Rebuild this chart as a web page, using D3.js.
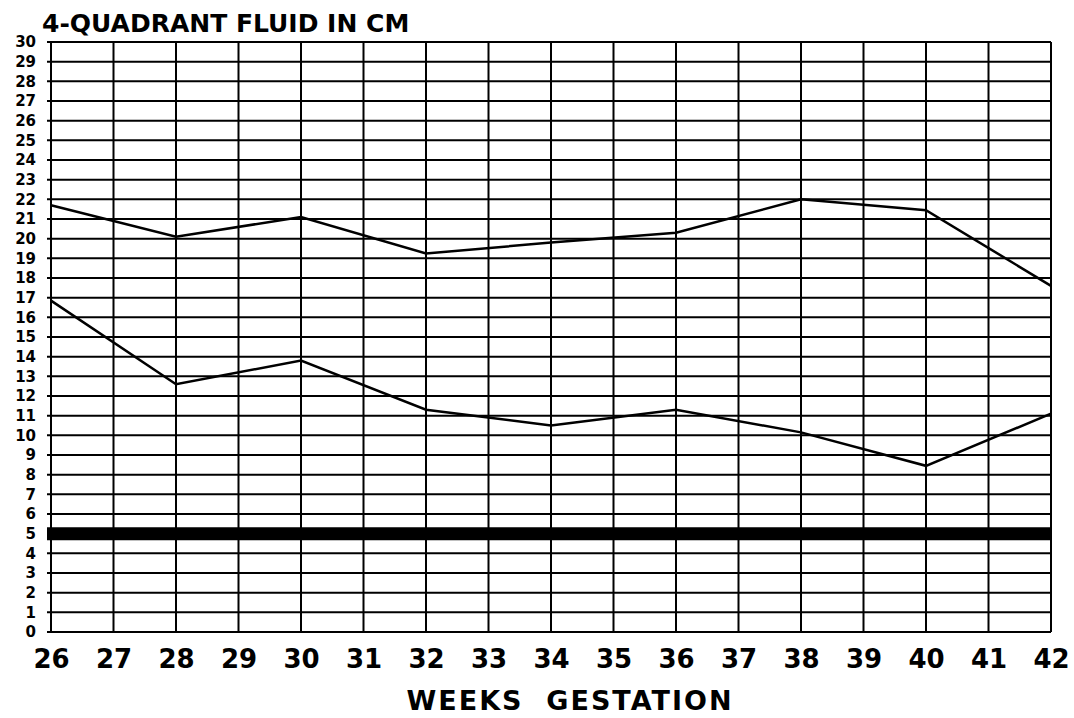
<!DOCTYPE html>
<html lang="en">
<head>
<meta charset="UTF-8">
<title>4-Quadrant Fluid</title>
<script src="https://cdn.jsdelivr.net/npm/d3@7"></script>
<style>
  body { margin: 0; background: #fff; }
  text { font-family: "DejaVu Sans", sans-serif; font-weight: bold; fill: #000; }
</style>
</head>
<body>
<script>
// weeks shown on the x axis
const weeks = d3.range(26, 43)
const yTicks = d3.range(0, 31)

// upper curve (cm)
const upperWeeks = [26, 28, 30, 32, 34, 36, 38, 40, 42]
const upperValues = [21.7, 20.1, 21.1, 19.25, 19.8, 20.3, 22.0, 21.45, 17.6]

// lower curve (cm)
const lowerWeeks = [26, 28, 30, 32, 34, 36, 38, 40, 42]
const lowerValues = [16.85, 12.6, 13.8, 11.3, 10.5, 11.3, 10.15, 8.45, 11.1]

// thick cut-off line
const cutoff = 5

const width = 1074
const height = 718
const margin = { top: 42, right: 23, bottom: 86, left: 51 }

const svg = d3.select('body').append('svg')
  .attr('width', width)
  .attr('height', height)

const x = d3.scaleLinear()
  .domain([26, 42])
  .range([margin.left, width - margin.right])

const y = d3.scaleLinear()
  .domain([0, 30])
  .range([height - margin.bottom, margin.top])

// horizontal grid
svg.append('g')
  .selectAll('line')
  .data(yTicks)
  .join('line')
  .attr('x1', margin.left - 4)
  .attr('x2', width - margin.right)
  .attr('y1', d => y(d))
  .attr('y2', d => y(d))
  .attr('stroke', '#000')
  .attr('stroke-width', 2)

// vertical grid
svg.append('g')
  .selectAll('line')
  .data(weeks)
  .join('line')
  .attr('x1', d => x(d))
  .attr('x2', d => x(d))
  .attr('y1', y(30))
  .attr('y2', y(0))
  .attr('stroke', '#000')
  .attr('stroke-width', 2)

// thick line at 5 cm
svg.append('line')
  .attr('x1', margin.left - 4)
  .attr('x2', width - margin.right)
  .attr('y1', y(cutoff))
  .attr('y2', y(cutoff))
  .attr('stroke', '#000')
  .attr('stroke-width', 13)

const line = d3.line()
  .x(d => x(d[0]))
  .y(d => y(d[1]))

svg.append('path')
  .datum(d3.zip(upperWeeks, upperValues))
  .attr('d', line)
  .attr('fill', 'none')
  .attr('stroke', '#000')
  .attr('stroke-width', 2.5)

svg.append('path')
  .datum(d3.zip(lowerWeeks, lowerValues))
  .attr('d', line)
  .attr('fill', 'none')
  .attr('stroke', '#000')
  .attr('stroke-width', 2.5)

// y axis labels
const yAxis = d3.axisLeft(y).tickValues(yTicks).tickSize(0).tickPadding(15)
svg.append('g')
  .attr('transform', `translate(${margin.left}, 0)`)
  .call(yAxis)
  .call(g => g.select('.domain').remove())
  .selectAll('text')
  .attr('font-size', 15)
  .attr('font-family', '"DejaVu Sans", sans-serif')
  .attr('font-weight', 'bold')

// x axis labels
const xAxis = d3.axisBottom(x).tickValues(weeks).tickFormat(d3.format('d')).tickSize(0).tickPadding(18)
svg.append('g')
  .attr('transform', `translate(0, ${y(0)})`)
  .call(xAxis)
  .call(g => g.select('.domain').remove())
  .selectAll('text')
  .attr('font-size', 26)
  .attr('font-family', '"DejaVu Sans", sans-serif')
  .attr('font-weight', 'bold')

svg.append('text')
  .attr('x', 42)
  .attr('y', 32)
  .attr('font-size', 25)
  .text('4-QUADRANT FLUID IN CM')

svg.append('text')
  .attr('x', 570)
  .attr('y', 710)
  .attr('text-anchor', 'middle')
  .attr('font-size', 27)
  .attr('letter-spacing', 2)
  .style('white-space', 'pre')
  .text('WEEKS  GESTATION')
</script>
</body>
</html>
